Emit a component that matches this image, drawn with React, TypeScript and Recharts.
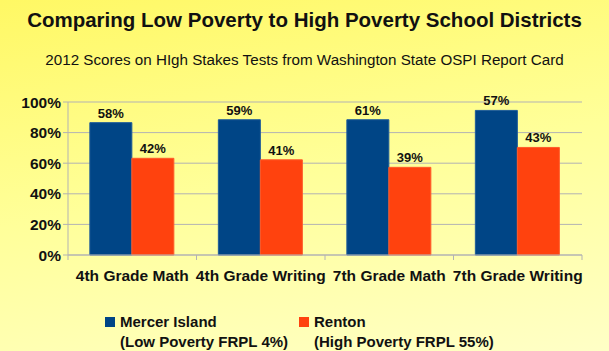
import { BarChart, Bar, XAxis, YAxis, CartesianGrid, LabelList } from 'recharts'

const categories = ['4th Grade Math', '4th Grade Writing', '7th Grade Math', '7th Grade Writing']
const mercerIsland = [86.5, 88.4, 88.4, 94.5]
const renton = [63.2, 62.2, 57.3, 70.3]
const mercerLabels = ['58%', '59%', '61%', '57%']
const rentonLabels = ['42%', '41%', '39%', '43%']
const yTicks = [0, 20, 40, 60, 80, 100]
const seriesNames = ['Mercer Island', 'Renton']
const seriesNotes = ['(Low Poverty FRPL 4%)', '(High Poverty FRPL 55%)']

const BLUE = '#004586'
const RED = '#ff420e'
const GRID = '#b3b3b3'
const FONT = '"Liberation Sans", Arial, sans-serif'

const W = 609
const H = 351
const PLOT_LEFT = 68
const PLOT_RIGHT = 582
const BAND = (PLOT_RIGHT - PLOT_LEFT) / categories.length

const data = categories.map((name, i) => ({
  name,
  mercer: mercerIsland[i],
  renton: renton[i],
  mercerLabel: mercerLabels[i],
  rentonLabel: rentonLabels[i],
}))

// category labels plus the little tick marks that sit between the groups
function CategoryTick(props: any) {
  const { x, y, payload, index } = props
  const left = x - BAND / 2
  return (
    <g>
      <line x1={left} x2={left} y1={y - 8} y2={y - 3} stroke={GRID} />
      {index === categories.length - 1 && (
        <line x1={left + BAND} x2={left + BAND} y1={y - 8} y2={y - 3} stroke={GRID} />
      )}
      <text x={x} y={y + 18} textAnchor="middle" fontSize={15.5} fontWeight="bold" fill="#111" fontFamily={FONT}>
        {payload.value}
      </text>
    </g>
  )
}

export default function App() {
  return (
    <div
      style={{
        position: 'relative',
        width: W,
        height: H,
        background: 'linear-gradient(170deg, #fff864 0%, #ffff9a 50%, #ffffc6 100%)',
        fontFamily: FONT,
        overflow: 'hidden',
      }}
    >
      <style>{'body{margin:0}'}</style>
      <div style={{ position: 'absolute', top: 8, left: 0, width: W, textAlign: 'center', fontSize: 20.5, fontWeight: 'bold', color: '#111' }}>
        Comparing Low Poverty to High Poverty School Districts
      </div>
      <div style={{ position: 'absolute', top: 51, left: 0, width: W, textAlign: 'center', fontSize: 15.2, color: '#111' }}>
        2012 Scores on HIgh Stakes Tests from Washington State OSPI Report Card
      </div>
      <BarChart
        width={W}
        height={H}
        data={data}
        margin={{ top: 102, right: W - PLOT_RIGHT, left: 8, bottom: 66 }}
        barCategoryGap="17%"
        barGap={0}
        style={{ position: 'absolute', top: 0, left: 0 }}
      >
        <CartesianGrid vertical={false} stroke={GRID} />
        <XAxis
          dataKey="name"
          height={30}
          axisLine={{ stroke: GRID }}
          tickLine={false}
          tick={<CategoryTick />}
          interval={0}
        />
        <YAxis
          domain={[0, 100]}
          ticks={yTicks}
          width={60}
          axisLine={{ stroke: GRID }}
          tickLine={{ stroke: GRID }}
          tickSize={5}
          tickFormatter={(v: number) => `${v}%`}
          tick={{ fontSize: 15.5, fontWeight: 'bold', fill: '#111', fontFamily: FONT }}
        />
        <YAxis
          yAxisId="frame"
          orientation="right"
          domain={[0, 100]}
          width={0}
          tick={false}
          tickLine={false}
          axisLine={{ stroke: GRID }}
        />
        <Bar dataKey="mercer" fill={BLUE} stroke="#1f5c99" isAnimationActive={false}>
          <LabelList dataKey="mercerLabel" position="top" offset={5} fontSize={13} fontWeight="bold" fill="#111" fontFamily={FONT} />
        </Bar>
        <Bar dataKey="renton" fill={RED} stroke="#ff5a2a" isAnimationActive={false}>
          <LabelList dataKey="rentonLabel" position="top" offset={5} fontSize={13} fontWeight="bold" fill="#111" fontFamily={FONT} />
        </Bar>
      </BarChart>
      {seriesNames.map((name, i) => (
        <div
          key={name}
          style={{
            position: 'absolute',
            top: 312,
            left: i === 0 ? 105 : 299,
            display: 'flex',
            alignItems: 'flex-start',
            fontSize: 15,
            fontWeight: 'bold',
            color: '#111',
            lineHeight: '20px',
          }}
        >
          <span style={{ width: 10, height: 10, marginTop: 5, marginRight: 5, background: i === 0 ? BLUE : RED }} />
          <span>
            {name}
            <br />
            {seriesNotes[i]}
          </span>
        </div>
      ))}
    </div>
  )
}
